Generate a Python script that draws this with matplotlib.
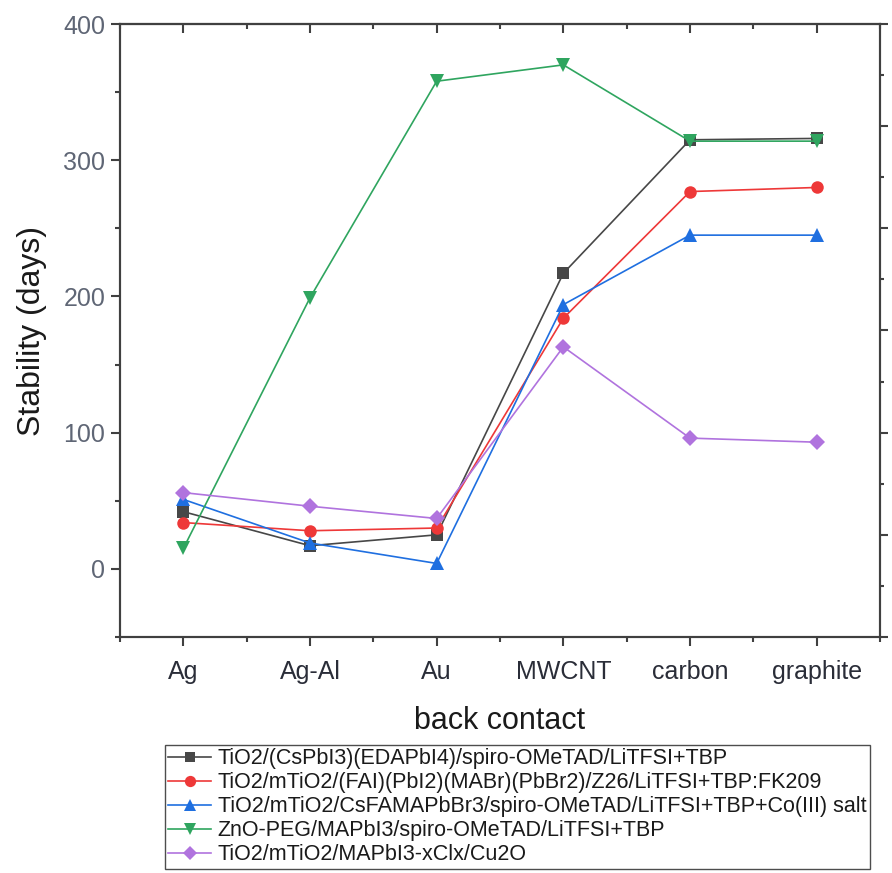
import matplotlib
matplotlib.use('Agg')
import matplotlib.pyplot as plt
from matplotlib.ticker import MultipleLocator

plt.rcParams['font.family'] = ['Liberation Sans', 'DejaVu Sans']

contacts = ['Ag', 'Ag-Al', 'Au', 'MWCNT', 'carbon', 'graphite']

labels = [
    'TiO2/(CsPbI3)(EDAPbI4)/spiro-OMeTAD/LiTFSI+TBP',
    'TiO2/mTiO2/(FAI)(PbI2)(MABr)(PbBr2)/Z26/LiTFSI+TBP:FK209',
    'TiO2/mTiO2/CsFAMAPbBr3/spiro-OMeTAD/LiTFSI+TBP+Co(III) salt',
    'ZnO-PEG/MAPbI3/spiro-OMeTAD/LiTFSI+TBP',
    'TiO2/mTiO2/MAPbI3-xClx/Cu2O',
]

csp_edapbi4 = [42, 17, 25, 217, 315, 316]
fai_z26 = [34, 28, 30, 184, 277, 280]
csfama_co = [51, 19, 4, 194, 245, 245]
zno_peg = [15, 199, 358, 370, 314, 314]
mapbi3_cu2o = [56, 46, 37, 163, 96, 93]

series = [csp_edapbi4, fai_z26, csfama_co, zno_peg, mapbi3_cu2o]
colors = ['#474747', '#ee3838', '#1f6fe0', '#2fa55f', '#b073de']
markers = ['s', 'o', '^', 'v', 'D']
sizes = [8, 9, 10, 10, 8]

fig = plt.figure(figsize=(8.92, 8.73), dpi=100)
ax = fig.add_axes([120 / 892, 1 - 637 / 873, 760 / 892, 613 / 873])

x = list(range(len(contacts)))
handles = []
for vals, c, m, s, lab in zip(series, colors, markers, sizes, labels):
    h, = ax.plot(x, vals, color=c, marker=m, markersize=s, lw=1.2,
                 markeredgewidth=0, label=lab)
    handles.append(h)

ax.set_xlim(-0.5, 5.5)
ax.set_ylim(-50, 400)
ax.set_xticks(x)
ax.set_xticklabels(contacts)
ax.xaxis.set_minor_locator(MultipleLocator(0.5))
ax.yaxis.set_major_locator(MultipleLocator(100))
ax.yaxis.set_minor_locator(MultipleLocator(50))

spine_col = '#404040'
for sp in ax.spines.values():
    sp.set_color(spine_col)
    sp.set_linewidth(1.5)

ax.tick_params(axis='both', which='major', direction='out', length=6.5,
               width=1.5, color=spine_col)
ax.tick_params(axis='both', which='minor', direction='out', length=3.5,
               width=1.5, color=spine_col)
ax.tick_params(axis='x', which='both', top=False, pad=10, labelsize=18)
ax.tick_params(axis='y', which='both', right=False, pad=4, labelsize=18)
for t in ax.get_yticklabels():
    t.set_color('#5f6675')
for t in ax.get_xticklabels():
    t.set_color('#2a2d38')

# top axis with inward ticks
top = ax.secondary_xaxis('top')
top.set_xticks(x)
top.xaxis.set_minor_locator(MultipleLocator(0.5))
top.tick_params(axis='x', which='major', direction='in', length=6.5, width=1.5,
                color=spine_col, labeltop=False)
top.tick_params(axis='x', which='minor', direction='in', length=3.5, width=1.5,
                color=spine_col)
top.spines['top'].set_color(spine_col)
top.spines['top'].set_linewidth(1.5)

# right axis, no labels
ax2 = ax.twinx()
ax2.set_ylim(0, 6)
ax2.yaxis.set_major_locator(MultipleLocator(1))
ax2.yaxis.set_minor_locator(MultipleLocator(0.5))
ax2.tick_params(axis='y', which='major', direction='out', length=6, width=1.5,
                color=spine_col, labelright=False)
ax2.tick_params(axis='y', which='minor', direction='out', length=3, width=1.5,
                color=spine_col)
for sp in ax2.spines.values():
    sp.set_color(spine_col)
    sp.set_linewidth(1.5)

ax.set_ylabel('Stability (days)', fontsize=23, color='#1a1a1a', labelpad=12)
ax.set_xlabel('back contact', fontsize=22, color='#1a1a1a', labelpad=16)

leg = fig.legend(handles=handles, loc='upper left',
                 bbox_to_anchor=(165 / 892, 1 - 745 / 873),
                 fontsize=15.5, frameon=True, fancybox=False,
                 edgecolor='#202020', handlelength=2.0, handletextpad=0.3,
                 borderpad=0.15, labelspacing=0.14, borderaxespad=0,
                 markerscale=0.9)
leg.get_frame().set_linewidth(1.0)
for t in leg.get_texts():
    t.set_color('#1a1a1a')

fig.savefig('out.png', dpi=100)
